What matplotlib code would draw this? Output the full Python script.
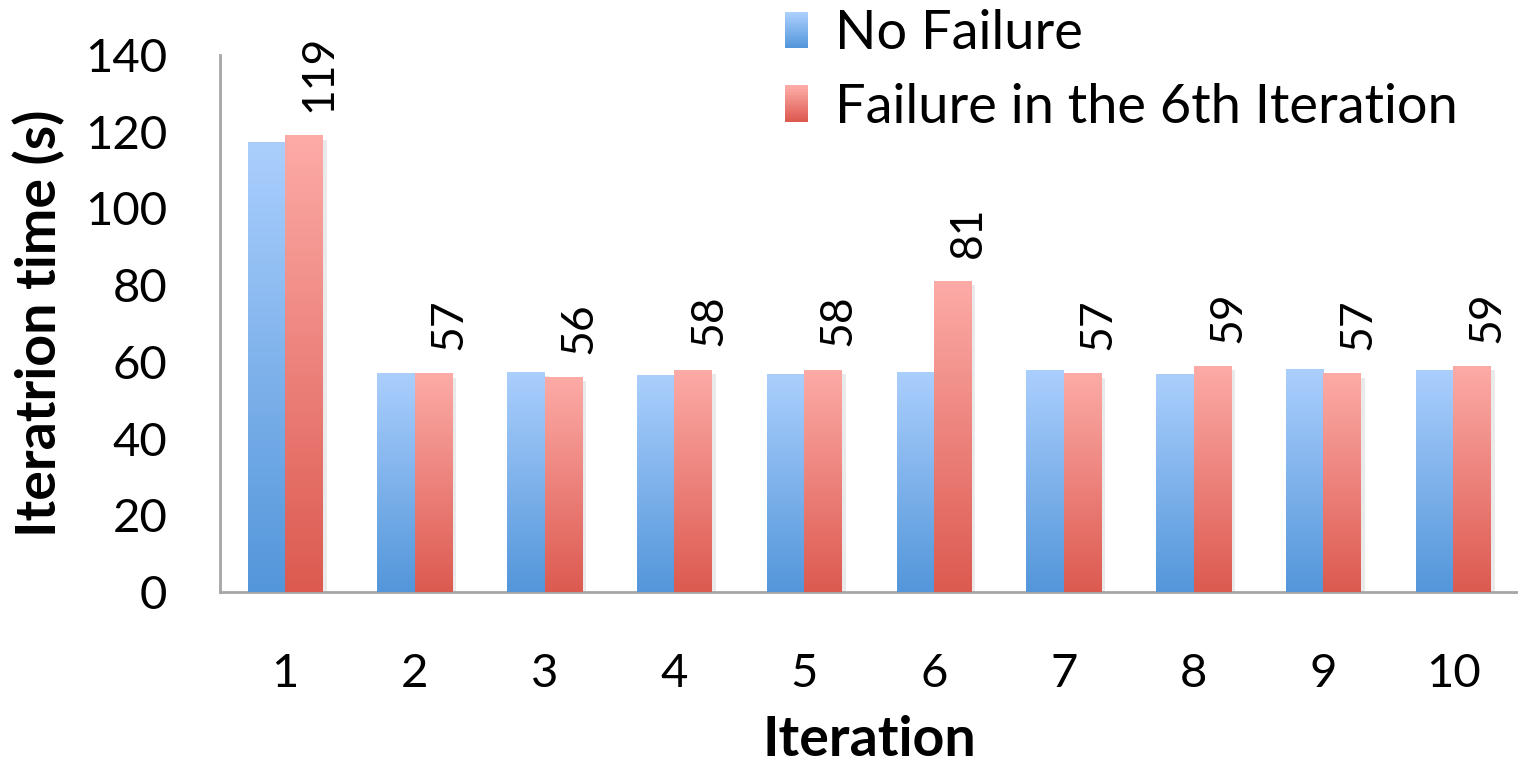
import numpy as np
import matplotlib
matplotlib.use('Agg')
import matplotlib.pyplot as plt
from matplotlib.colors import LinearSegmentedColormap
from matplotlib.patches import Rectangle, Patch
from matplotlib.legend_handler import HandlerBase
import matplotlib.patheffects as pe

plt.rcParams['font.family'] = ['Lato', 'DejaVu Sans']

iterations = ['1', '2', '3', '4', '5', '6', '7', '8', '9', '10']
no_failure = [117.3, 57.1, 57.4, 56.6, 56.8, 57.4, 57.9, 56.8, 58.1, 57.9]
failure_6th = [119, 57, 56, 58, 58, 81, 57, 59, 57, 59]
series_names = ['No Failure', 'Failure in the 6th Iteration']
y_ticks = [0, 20, 40, 60, 80, 100, 120, 140]

blue_top, blue_bottom = '#abcffd', '#5396da'
red_top, red_bottom = '#fdaba7', '#dc5a50'


def gradient_fill(ax, bars, top, bottom):
    cmap = LinearSegmentedColormap.from_list('g', [bottom, top])
    grad = np.linspace(0, 1, 256).reshape(-1, 1)
    for b in bars:
        x0, w, h = b.get_x(), b.get_width(), b.get_height()
        im = ax.imshow(grad, extent=[x0, x0 + w, 0, h], origin='lower',
                       aspect='auto', cmap=cmap, zorder=3, interpolation='bicubic')
        im.set_clip_path(b)


class GradientHandler(HandlerBase):
    def __init__(self, top, bottom):
        super().__init__()
        self.top, self.bottom = top, bottom

    def create_artists(self, legend, orig_handle, xdescent, ydescent,
                       width, height, fontsize, trans):
        cmap = LinearSegmentedColormap.from_list('g', [self.bottom, self.top])
        n = 24
        w = height * 0.62
        h = height * 0.95
        x = -xdescent + width - w
        y = -ydescent + (height - h) / 2
        strips = []
        for i in range(n):
            strips.append(Rectangle((x, y + h * i / n), w, h / n + 0.3,
                                    facecolor=cmap(i / (n - 1)), edgecolor='none',
                                    transform=trans))
        return strips


fig = plt.figure(figsize=(15.18, 7.72), dpi=100)
ax = fig.add_axes([0.145, 0.233, 0.855, 0.696])

x = np.arange(len(iterations))
width = 0.288
shadow = [pe.SimplePatchShadow(offset=(3, -3), shadow_rgbFace='#999999', alpha=0.2), pe.Normal()]
b1 = ax.bar(x - width / 2, no_failure, width, color='none', edgecolor='none', zorder=2)
b2 = ax.bar(x + width / 2, failure_6th, width, color='none', edgecolor='none', zorder=2)
for b in list(b1) + list(b2):
    b.set_facecolor('white')
    b.set_path_effects(shadow)
gradient_fill(ax, b1, blue_top, blue_bottom)
gradient_fill(ax, b2, red_top, red_bottom)

# value labels sit above the failure-run bars
for xi, v in zip(x, failure_6th):
    ax.text(xi + width / 2 + 0.12, v + 6, str(v), rotation=90, ha='center', va='bottom',
            fontsize=32, zorder=4)

ax.set_xlim(-0.5, len(iterations) - 0.5)
ax.set_ylim(0, 140)
ax.set_yticks(y_ticks)
ax.set_xticks(x)
ax.set_xticklabels(iterations)
ax.tick_params(axis='both', length=0, labelsize=34)
ax.tick_params(axis='y', pad=38)
ax.tick_params(axis='x', pad=44)
for side in ['top', 'right']:
    ax.spines[side].set_visible(False)
for side in ['left', 'bottom']:
    ax.spines[side].set_color('#a6a6a6')
    ax.spines[side].set_linewidth(2)

ax.set_xlabel('Iteration', fontsize=40, fontweight='bold', labelpad=14)
ax.set_ylabel('Iteratrion time (s)', fontsize=40, fontweight='bold', labelpad=14)

handles = [Patch(label=series_names[0]), Patch(label=series_names[1])]
ax.legend(handles=handles, loc='upper left', bbox_to_anchor=(0.405, 1.125),
          frameon=False, fontsize=39, handlelength=0.75, handletextpad=0.5,
          labelspacing=0.45, borderaxespad=0,
          handler_map={handles[0]: GradientHandler(blue_top, blue_bottom),
                       handles[1]: GradientHandler(red_top, red_bottom)})

fig.savefig('out.png', dpi=100)
